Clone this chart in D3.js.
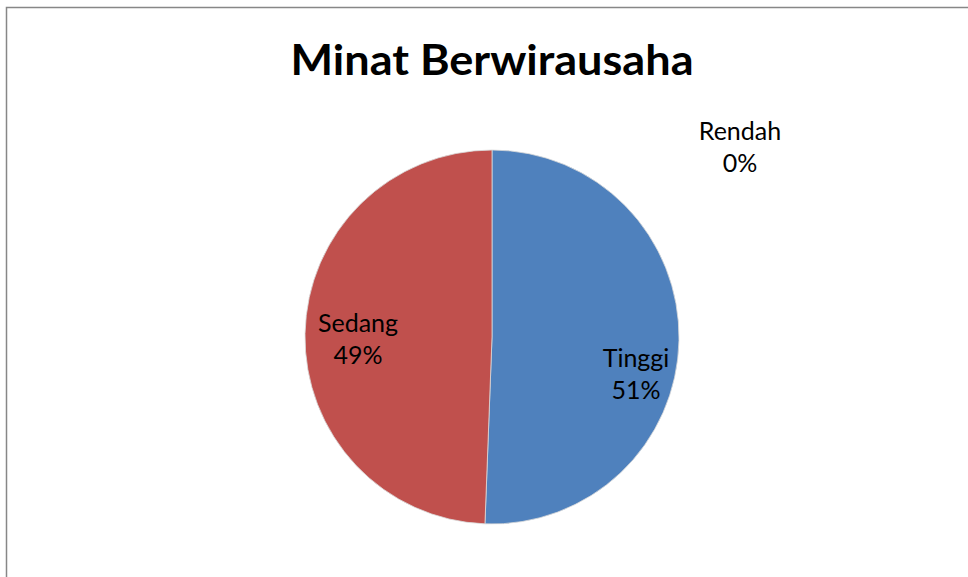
<!DOCTYPE html>
<html>
<head>
<meta charset="utf-8">
<script src="https://cdn.jsdelivr.net/npm/d3@7"></script>
<style>
  html, body { margin: 0; padding: 0; background: #fff; }
  svg { display: block; }
</style>
</head>
<body>
<svg id="chart" width="968" height="577"></svg>
<script>
const title = "Minat Berwirausaha";
const categories = ["Tinggi", "Sedang", "Rendah"];
const values = [50.6, 49.4, 0];
const percentLabels = ["51%", "49%", "0%"];
const colors = ["#4F81BD", "#C0504D", "#9BBB59"];

const W = 968, H = 577;
const svg = d3.select("#chart");
const font = "Lato, 'Open Sans', sans-serif";

// outer chart border
svg.append("rect")
  .attr("x", 6.5).attr("y", 7.5)
  .attr("width", W + 10).attr("height", H + 10)
  .attr("fill", "#fff")
  .attr("stroke", "#878787")
  .attr("stroke-width", 1.5);

svg.append("text")
  .attr("x", 492).attr("y", 75)
  .attr("text-anchor", "middle")
  .attr("font-family", font)
  .attr("font-weight", "bold")
  .attr("font-size", 42)
  .attr("textLength", 403)
  .attr("lengthAdjust", "spacingAndGlyphs")
  .attr("fill", "#000")
  .text(title);

const cx = 492, cy = 337, R = 187;
const data = categories.map((c, i) => ({ name: c, value: values[i], pct: percentLabels[i], color: colors[i] }));

const pie = d3.pie().value(d => d.value).sort(null);
const arcs = pie(data);
const arc = d3.arc().innerRadius(0).outerRadius(R);

const g = svg.append("g").attr("transform", `translate(${cx},${cy})`);
g.selectAll("path")
  .data(arcs.filter(a => a.data.value > 0))
  .join("path")
  .attr("d", arc)
  .attr("fill", d => d.data.color)
  .attr("stroke", "#d9d9d9")
  .attr("stroke-width", 0.8);

// label offsets relative to pie center (Excel best-fit placement)
const labelOffsets = [[144, 37], [-134, 2], [248, -190]];
const lbl = g.selectAll("g.lbl")
  .data(arcs)
  .join("g")
  .attr("class", "lbl")
  .attr("transform", (d, i) => `translate(${labelOffsets[i][0]},${labelOffsets[i][1]})`);

lbl.append("text")
  .attr("text-anchor", "middle")
  .attr("font-family", font)
  .attr("font-size", 25)
  .attr("fill", "#000")
  .attr("y", -7)
  .text(d => d.data.name);
lbl.append("text")
  .attr("text-anchor", "middle")
  .attr("font-family", font)
  .attr("font-size", 25)
  .attr("fill", "#000")
  .attr("y", 25)
  .text(d => d.data.pct);
</script>
</body>
</html>
